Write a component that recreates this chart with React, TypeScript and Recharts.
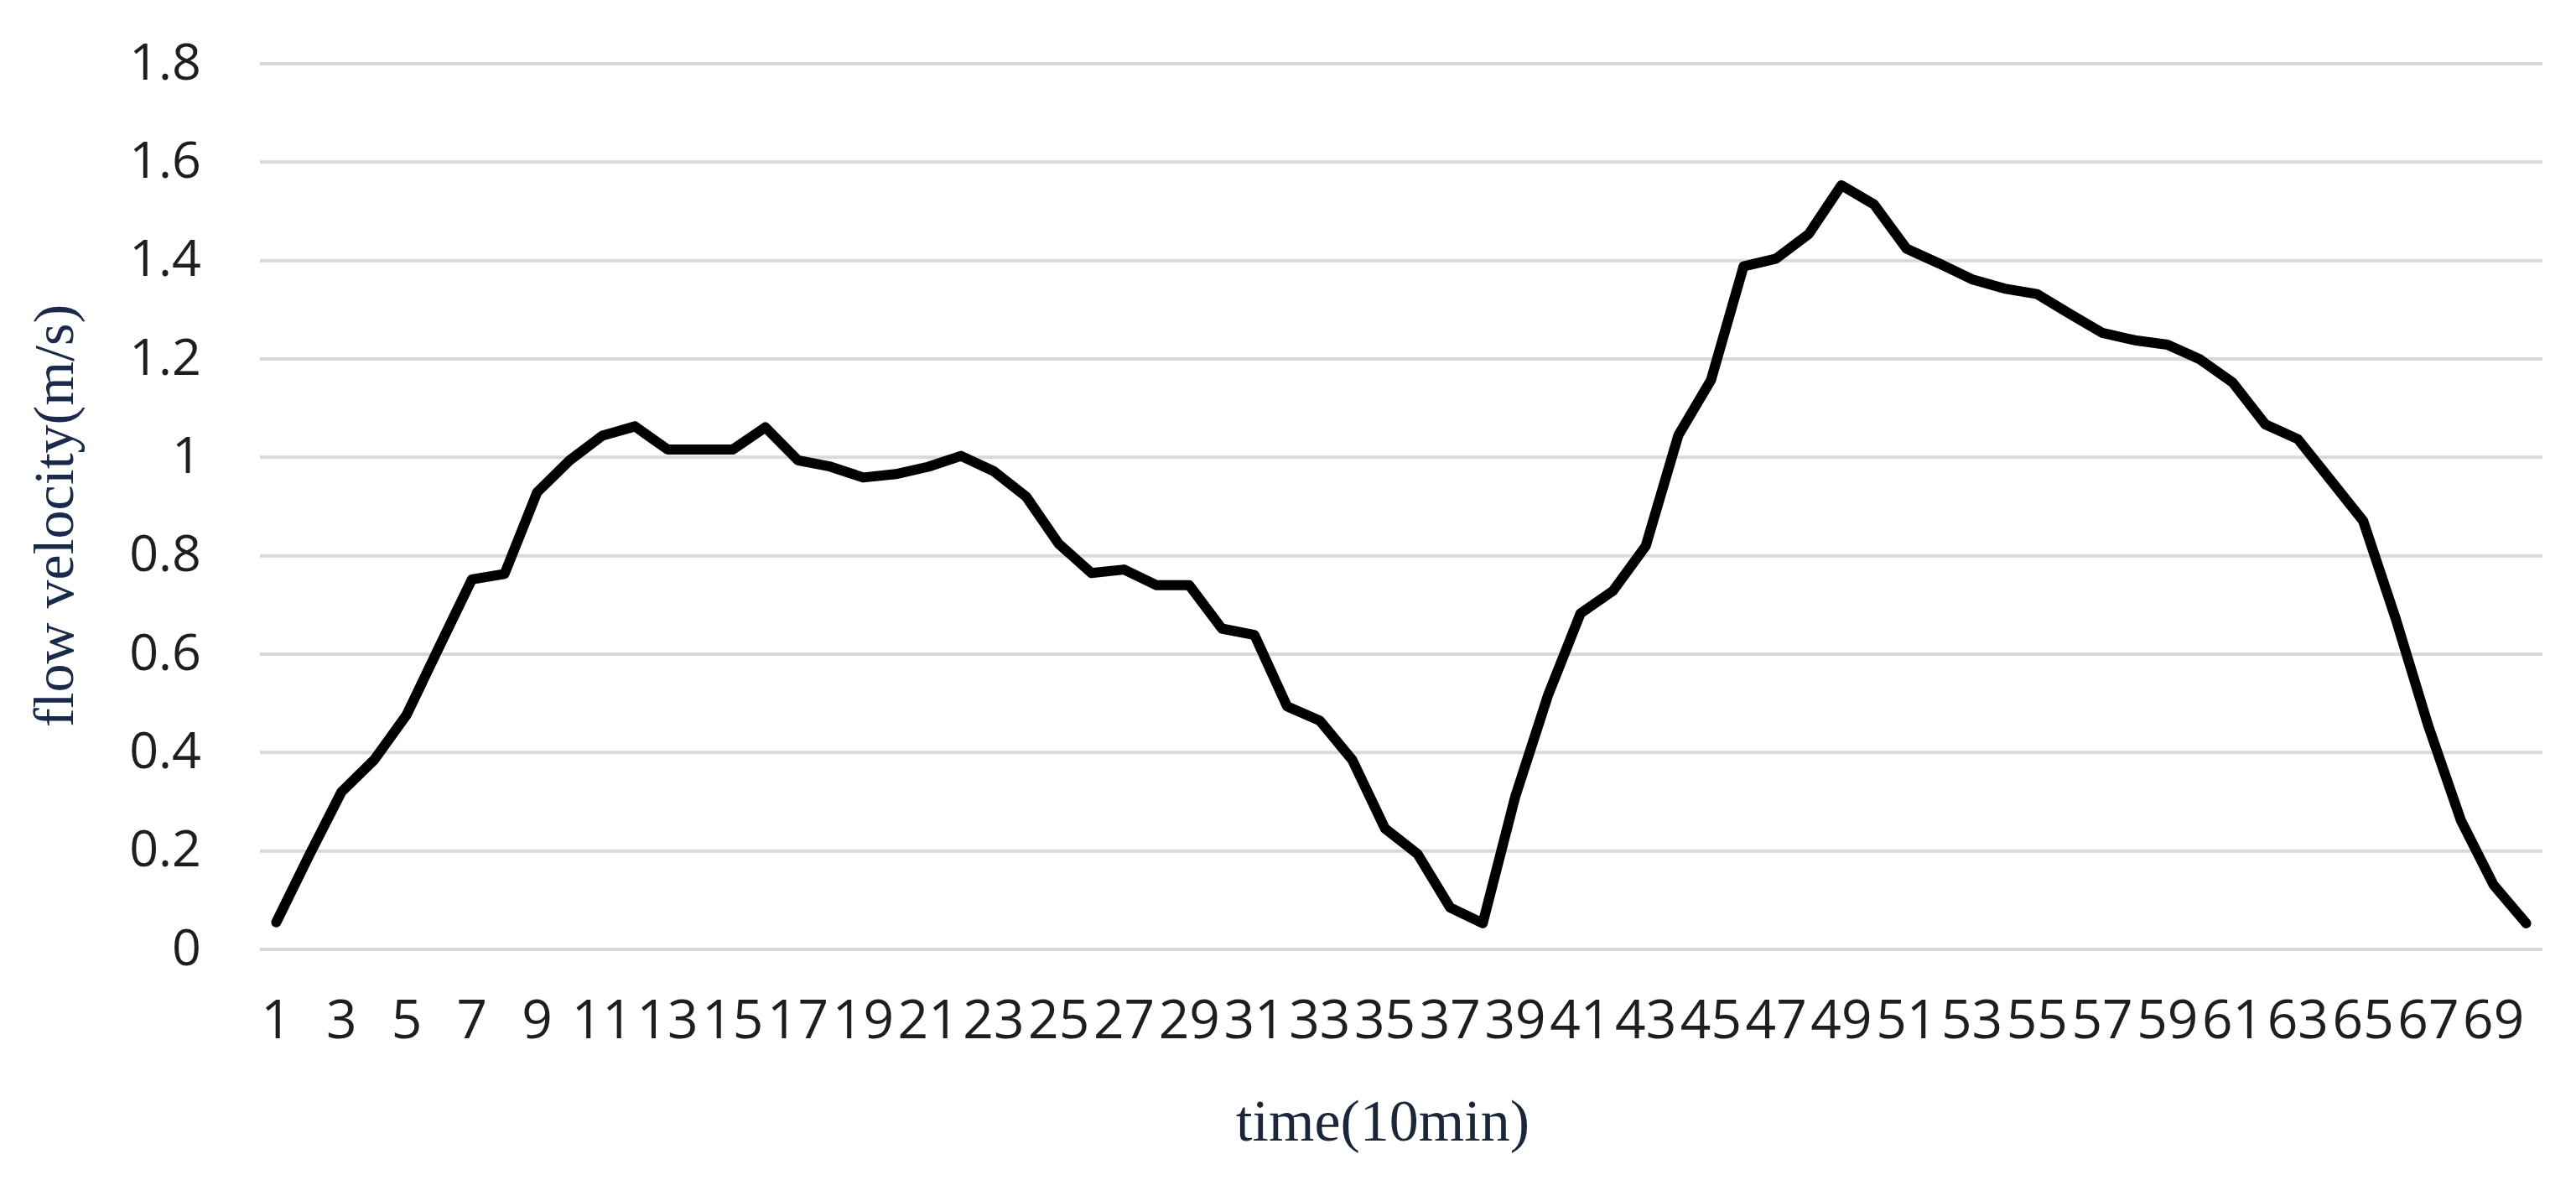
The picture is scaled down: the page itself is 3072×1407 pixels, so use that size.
import React from 'react'
import { LineChart, Line, XAxis, YAxis, CartesianGrid, Label } from 'recharts'

const timeSteps = [
  1, 2, 3, 4, 5, 6, 7, 8, 9, 10, 11, 12, 13, 14, 15, 16, 17, 18, 19, 20,
  21, 22, 23, 24, 25, 26, 27, 28, 29, 30, 31, 32, 33, 34, 35, 36, 37, 38, 39, 40,
  41, 42, 43, 44, 45, 46, 47, 48, 49, 50, 51, 52, 53, 54, 55, 56, 57, 58, 59, 60,
  61, 62, 63, 64, 65, 66, 67, 68, 69, 70,
]

const velocity = [
  0.055, 0.19, 0.32, 0.385, 0.477, 0.615, 0.752, 0.763, 0.929, 0.994,
  1.044, 1.063, 1.016, 1.016, 1.016, 1.061, 0.994, 0.981, 0.959, 0.966,
  0.981, 1.003, 0.972, 0.92, 0.824, 0.765, 0.772, 0.74, 0.74, 0.652,
  0.639, 0.494, 0.465, 0.385, 0.246, 0.194, 0.085, 0.053, 0.311, 0.516,
  0.683, 0.729, 0.82, 1.045, 1.157, 1.388, 1.404, 1.454, 1.553, 1.514,
  1.424, 1.394, 1.362, 1.343, 1.332, 1.292, 1.253, 1.238, 1.229, 1.199,
  1.152, 1.067, 1.037, 0.954, 0.871, 0.672, 0.454, 0.262, 0.131, 0.053,
]

const yTicks = [0, 0.2, 0.4, 0.6, 0.8, 1, 1.2, 1.4, 1.6, 1.8]
const yTickLabels = ['0', '0.2', '0.4', '0.6', '0.8', '1', '1.2', '1.4', '1.6', '1.8']

const xTitle = 'time(10min)'
const yTitle = 'flow velocity(m/s)'

const data = timeSteps.map((t, i) => ({ t, v: velocity[i] }))

const tickFont = { fill: '#1e1e1e', fontFamily: '"Open Sans", sans-serif' }
const titleFont = '"Liberation Serif", serif'

const App = () => {
  return (
    <div style={{ position: 'absolute', left: 0, top: 0, width: 3072, height: 1407, background: '#fff' }}>
      <LineChart width={3072} height={1407} data={data} margin={{ top: 76, right: 40, bottom: 0, left: 0 }}>
        <CartesianGrid horizontal={true} vertical={false} stroke="#d9d9d9" strokeWidth={4} />
        <XAxis
          dataKey="t"
          interval={1}
          axisLine={false}
          tickLine={false}
          tickSize={0}
          tickMargin={61}
          height={275}
          padding={{ left: 19.44, right: 19.44 }}
          tick={{ ...tickFont, fontSize: 64 }}
        >
          <Label
            content={() => (
              <text x={1649} y={1360} textAnchor="middle" fontFamily={titleFont} fontSize={70} fill="#1b2638">
                {xTitle}
              </text>
            )}
          />
        </XAxis>
        <YAxis
          type="number"
          domain={[0, 1.8]}
          ticks={yTicks}
          interval={0}
          width={310}
          axisLine={false}
          tickLine={false}
          tickSize={0}
          tickMargin={70}
          tickFormatter={(_v, i) => yTickLabels[i]}
          tick={{ ...tickFont, fontSize: 61, dy: -3 }}
        >
          <Label
            content={() => (
              <text
                x={87}
                y={615}
                transform="rotate(-90 87 615)"
                textAnchor="middle"
                fontFamily={titleFont}
                fontSize={68}
                fill="#1a2a4a"
              >
                {yTitle}
              </text>
            )}
          />
        </YAxis>
        <Line
          type="linear"
          dataKey="v"
          stroke="#000"
          strokeWidth={12}
          strokeLinejoin="round"
          strokeLinecap="round"
          dot={false}
          activeDot={false}
          isAnimationActive={false}
        />
      </LineChart>
    </div>
  )
}

export default App
